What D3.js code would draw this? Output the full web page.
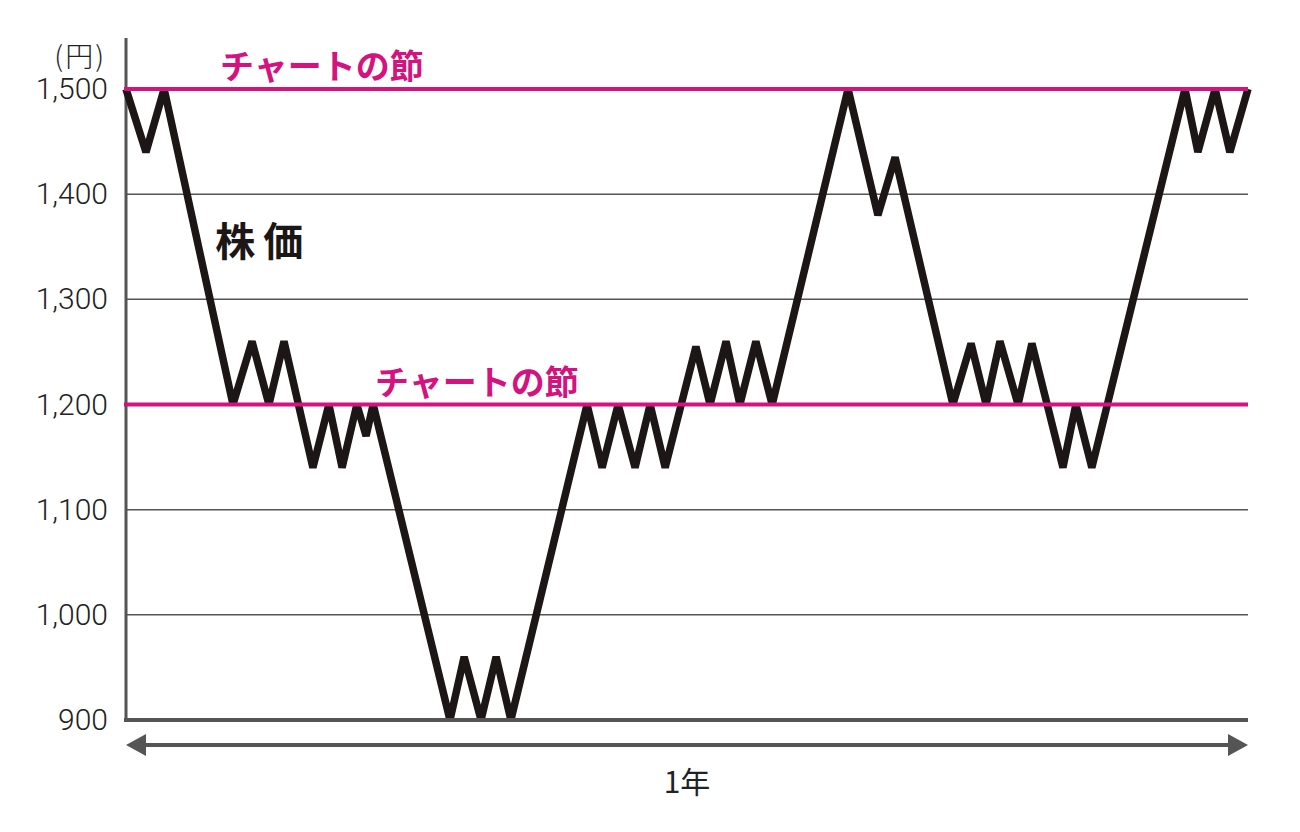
<!DOCTYPE html>
<html>
<head>
<meta charset="utf-8">
<script src="https://cdn.jsdelivr.net/npm/d3@7"></script>
<style>
  html, body { margin: 0; padding: 0; background: #fff; }
  svg { display: block; }
</style>
</head>
<body>
<svg id="chart" width="1300" height="832"></svg>
<script>
// days within the year (0..365) and price in yen
const days = [0, 6.5, 12.4, 34.8, 41, 46.5, 51.4, 60.8, 66, 70.3, 75.1, 78.1, 80.4,
  105.4, 110, 115.5, 120.4, 125.2, 150, 154.9, 160.1, 165.6, 170.5, 175.4,
  185.4, 190, 195.2, 199.7, 204.9, 210.2, 234.9, 244.6, 250.2,
  269, 274.9, 279.8, 284.3, 290.2, 294.7, 304.8, 309, 314.2,
  344.5, 348.7, 354.3, 359.1, 365];
const prices = [1500, 1440, 1500, 1200, 1260, 1200, 1260, 1140, 1200, 1140, 1200, 1170, 1200,
  900, 960, 900, 960, 900, 1200, 1140, 1200, 1140, 1200, 1140,
  1255, 1200, 1260, 1200, 1260, 1200, 1500, 1380, 1435,
  1200, 1258, 1200, 1260, 1200, 1258, 1140, 1200, 1140,
  1500, 1440, 1500, 1440, 1500];
const yTicks = [900, 1000, 1100, 1200, 1300, 1400, 1500];
const supportLevels = [1500, 1200];
const supportLabel = 'チャートの節';

const svg = d3.select('#chart');
const margin = { top: 89, right: 52, bottom: 112, left: 126 };
const width = 1300 - margin.left - margin.right;
const height = 832 - margin.top - margin.bottom;

const x = d3.scaleLinear().domain([0, 365]).range([margin.left, margin.left + width]);
const y = d3.scaleLinear().domain([900, 1500]).range([margin.top + height, margin.top]);

const gray = '#555';
const magenta = '#d4137f';

// horizontal grid lines
svg.append('g')
  .selectAll('line')
  .data(yTicks.filter(t => t !== 900 && !supportLevels.includes(t)))
  .enter()
  .append('line')
  .attr('x1', x(0))
  .attr('x2', x(365))
  .attr('y1', d => y(d))
  .attr('y2', d => y(d))
  .style('stroke', gray)
  .style('stroke-width', 1.5);

// y axis (labels only, custom format)
const yAxis = svg.append('g')
  .attr('transform', `translate(${margin.left},0)`)
  .call(d3.axisLeft(y).tickValues(yTicks).tickSize(0).tickPadding(18)
    .tickFormat(d3.format(',')));
yAxis.select('.domain').remove();
yAxis.selectAll('text')
  .style('font-family', 'Roboto, "Liberation Sans Narrow", sans-serif')
  .style('font-weight', 300)
  .style('font-size', '30px')
  .style('fill', '#222');

// vertical axis line
svg.append('line')
  .attr('x1', margin.left)
  .attr('x2', margin.left)
  .attr('y1', 38)
  .attr('y2', y(900))
  .style('stroke', gray)
  .style('stroke-width', 3);

// unit label
svg.append('text')
  .attr('x', 106)
  .attr('y', 55)
  .attr('text-anchor', 'end')
  .attr('dominant-baseline', 'central')
  .style('font-family', '"Noto Sans CJK JP", sans-serif')
  .style('font-weight', 300)
  .style('font-size', '28px')
  .style('letter-spacing', '2px')
  .style('fill', '#222')
  .text('(円)');

// price line
const line = d3.line()
  .x((d, i) => x(days[i]))
  .y(d => y(d));

svg.append('path')
  .datum(prices)
  .attr('d', line)
  .attr('fill', 'none')
  .style('stroke', '#1c1616')
  .style('stroke-width', 7.5)
  .style('stroke-linejoin', 'bevel');

// support / resistance lines
svg.append('g')
  .selectAll('line')
  .data(supportLevels)
  .enter()
  .append('line')
  .attr('x1', x(0) - 2)
  .attr('x2', x(365))
  .attr('y1', d => y(d))
  .attr('y2', d => y(d))
  .style('stroke', magenta)
  .style('stroke-width', 4);

// bottom axis line
svg.append('line')
  .attr('x1', margin.left - 2)
  .attr('x2', x(365))
  .attr('y1', y(900))
  .attr('y2', y(900))
  .style('stroke', gray)
  .style('stroke-width', 4);

// labels for support lines
const labelPos = [{ day: 30.6, value: 1500 }, { day: 81, value: 1200 }];
svg.append('g')
  .selectAll('text')
  .data(labelPos)
  .enter()
  .append('text')
  .attr('x', d => x(d.day))
  .attr('y', d => y(d.value) - 10)
  .style('font-family', '"Noto Sans CJK JP", sans-serif')
  .style('font-weight', 700)
  .style('font-size', '34px')
  .style('fill', magenta)
  .text(supportLabel);

// series label
svg.append('text')
  .attr('x', x(29))
  .attr('y', y(1357))
  .attr('dominant-baseline', 'central')
  .style('font-family', '"Noto Sans CJK JP", sans-serif')
  .style('font-weight', 700)
  .style('font-size', '40px')
  .style('letter-spacing', '8px')
  .style('fill', '#1c1616')
  .text('株価');

// one-year arrow
const arrowY = y(900) + 25;
const head = 20;
svg.append('line')
  .attr('x1', x(0) + head - 2)
  .attr('x2', x(365) - head + 2)
  .attr('y1', arrowY)
  .attr('y2', arrowY)
  .style('stroke', gray)
  .style('stroke-width', 4);

svg.append('path')
  .attr('d', `M${x(0)},${arrowY} L${x(0) + head},${arrowY - 11} L${x(0) + head},${arrowY + 11} Z`)
  .attr('fill', gray);
svg.append('path')
  .attr('d', `M${x(365)},${arrowY} L${x(365) - head},${arrowY - 11} L${x(365) - head},${arrowY + 11} Z`)
  .attr('fill', gray);

svg.append('text')
  .attr('x', (x(0) + x(365)) / 2)
  .attr('y', arrowY + 35)
  .attr('text-anchor', 'middle')
  .attr('dominant-baseline', 'central')
  .style('font-family', '"Noto Sans CJK JP", sans-serif')
  .style('font-weight', 400)
  .style('font-size', '30px')
  .style('fill', '#222')
  .text('1年');
</script>
</body>
</html>
